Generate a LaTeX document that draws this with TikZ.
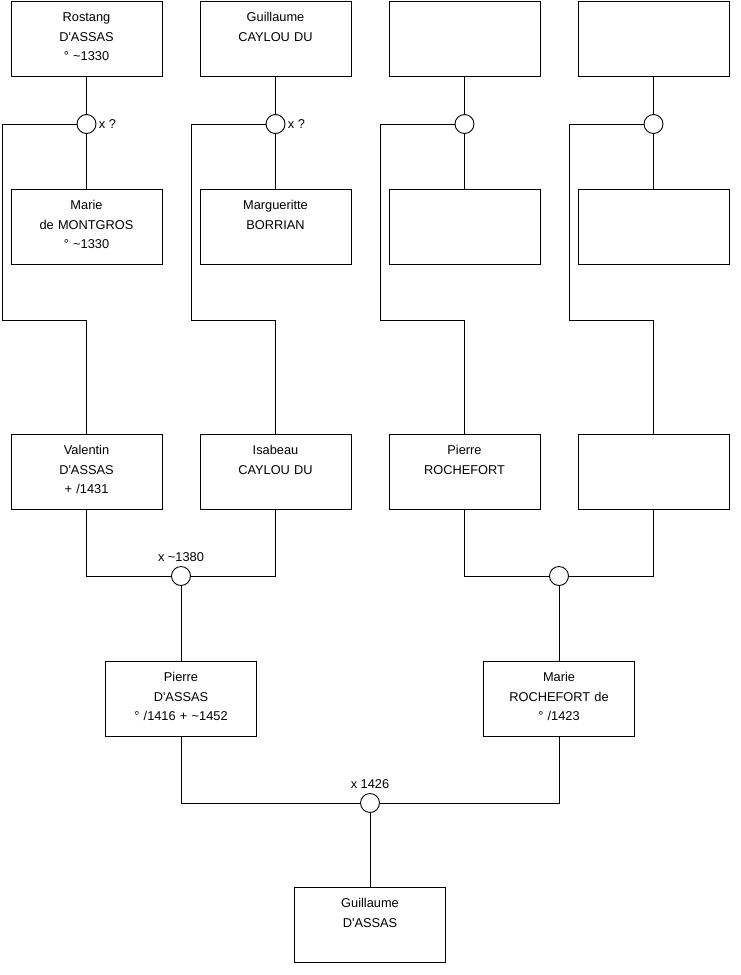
\documentclass[tikz,border=0pt]{standalone}
\usepackage{fontspec}
\setmainfont{Liberation Sans}[Ligatures=TeXOff]
\usetikzlibrary{positioning, calc}
\tikzset{
  person/.style = {draw, inner sep = 0pt, outer sep = 0pt, text width = 151pt, align = center,
    text height = 20.5pt, text depth = 54.5pt},   % names sit at the top of the box
  union/.style = {draw, circle, fill = white, inner sep = 0pt, outer sep = 0pt, minimum size = 19pt},
  wed/.style = {label = {[inner sep = 4.5pt]above:#1}},
  wedq/.style = {label = {[inner sep = 2.5pt]right:#1}}
}
\def \gap {38pt}
\def \tl {\textasciitilde}

\begin{document}
\begin{tikzpicture}[x = 1pt, y = -1pt, line width = 0.9pt,
  font = \fontsize{12.8}{19.7}\selectfont]
\useasboundingbox (0,0) rectangle (740,975);

%% Great-grandparents
\node [person] (top1) at (86.5,38.5) {Rostang\\D'ASSAS\\° \tl1330};
\node [person] (top2) [right = \gap of top1] {Guillaume\\CAYLOU DU};
\node [person] (top3) [right = \gap of top2] {};
\node [person] (top4) [right = \gap of top3] {};

\node [person] (sp1) [below = 113pt of top1] {Marie\\de MONTGROS\\° \tl1330};
\node [person] (sp2) [below = 113pt of top2] {Margueritte\\BORRIAN};
\node [person] (sp3) [below = 113pt of top3] {};
\node [person] (sp4) [below = 113pt of top4] {};

%% Grandparents
\node [person] (par1) [below = 170pt of sp1] {Valentin\\D'ASSAS\\+ /1431};
\node [person] (par2) [below = 170pt of sp2] {Isabeau\\CAYLOU DU};
\node [person] (par3) [below = 170pt of sp3] {Pierre\\ROCHEFORT};
\node [person] (par4) [below = 170pt of sp4] {};

\foreach \i/\q in {1/x ?, 2/x ?, 3/{}, 4/{}} {
  \node [union, wedq = \q] (u\i) [below = 38.5pt of top\i] {};
  \draw (top\i) -- (u\i) -- (sp\i);
  \draw (u\i) -- ($(top\i.west |- u\i) + (-9,0)$) |- ($(par\i.north) + (0,-114)$) -- (par\i);
}

%% Parents
\node [union, wed = x \tl1380] (v1) at ($(par1.south) !0.5! (par2.south) + (0,67)$) {};
\node [union] (v2) at ($(par3.south) !0.5! (par4.south) + (0,67)$) {};
\draw (par1) |- (v1) -| (par2);
\draw (par3) |- (v2) -| (par4);

\node [person] (gp1) [below = 75.5pt of v1] {Pierre\\D'ASSAS\\° /1416 + \tl1452};
\node [person] (gp2) [below = 75.5pt of v2] {Marie\\ROCHEFORT de\\° /1423};
\draw (v1) -- (gp1);
\draw (v2) -- (gp2);

%% Child
\node [union, wed = x 1426] (w) at ($(gp1.south) !0.5! (gp2.south) + (0,67)$) {};
\draw (gp1) |- (w) -| (gp2);
\node [person] (child) [below = 74.5pt of w] {Guillaume\\D'ASSAS};
\draw (w) -- (child);

\end{tikzpicture}
\end{document}
